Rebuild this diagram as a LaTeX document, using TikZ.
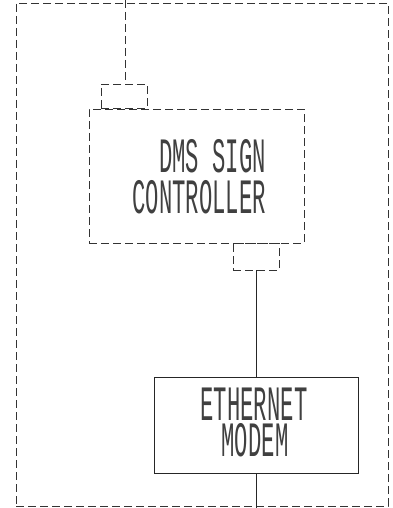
\documentclass[tikz,border=0pt]{standalone}
\usepackage{fontspec}
\newfontfamily\cadfont{Liberation Mono}
\begin{document}
\begin{tikzpicture}[x=1pt,y=-1pt,
  dbox/.style={draw=black!80, line width=0.8pt, dash pattern=on 8pt off 4pt, inner sep=0pt, rectangle},
  sbox/.style={draw=black!85, line width=0.9pt, inner sep=0pt, rectangle},
  dline/.style={draw=black!80, line width=0.8pt, dash pattern=on 8pt off 4pt},
  sline/.style={draw=black!85, line width=0.9pt},
  lbl/.style={font=\cadfont\fontsize{38}{38}\selectfont, inner sep=0pt, xscale=0.585, yscale=1.3,
    text height=22pt, text depth=0pt, text=black!75}]
\useasboundingbox (0,0) rectangle (393,508);
\node[dbox, minimum width=372pt, minimum height=503pt] (outer) at (202,254.5) {};
\node[dbox, minimum width=215pt, minimum height=134pt] (ctl) at (196.5,176) {};
\node[dbox, minimum width=46pt, minimum height=24pt] (c1) at (124,96) {};
\node[dbox, minimum width=46pt, minimum height=27pt] (c2) at (256,256.5) {};
\node[sbox, minimum width=204pt, minimum height=96pt] (eth) at (256,425) {};
\coordinate (top) at (125,0);
\coordinate (bot) at (256,508);
\draw[dline] (top) -- (top |- c1.north);
\draw[sline] (c2.south) -- (eth.north);
\draw[sline] (eth.south) -- (bot);
\node[lbl, anchor=base east] (t1) at (266,172) {DMS SIGN};
\node[lbl, anchor=base east] (t2) at (266,213) {CONTROLLER};
\node[lbl, anchor=base] (t3) at (254,420) {ETHERNET};
\node[lbl, anchor=base] (t4) at (255,456) {MODEM};
\end{tikzpicture}
\end{document}
